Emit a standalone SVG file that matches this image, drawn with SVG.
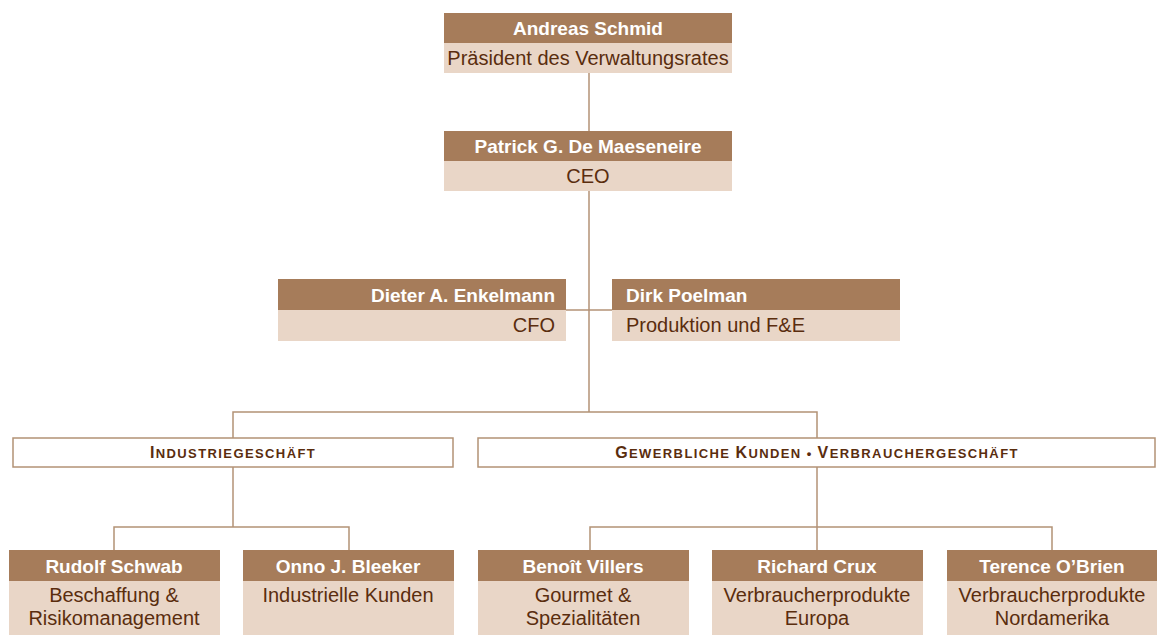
<svg xmlns="http://www.w3.org/2000/svg" width="1157" height="635" viewBox="0 0 1157 635">
<style>
.hd{fill:#A67C5A}
.bd{fill:#E9D6C7}
.ht{font-family:"Liberation Sans",Arial,sans-serif;font-weight:bold;font-size:19px;fill:#fff}
.bt{font-family:"Liberation Sans",Arial,sans-serif;font-size:20px;fill:#5A2D0E}
.sec{fill:#fff;stroke:#B39276;stroke-width:1.5}
.st{font-family:"Liberation Sans",Arial,sans-serif;font-weight:bold;fill:#5A2D0E;letter-spacing:1.4px}
.ln{fill:none;stroke:#B39276;stroke-width:1.5}
</style>
<g id="connectors">
<path class="ln" d="M589 73V131"/>
<path class="ln" d="M589 191V412"/>
<path class="ln" d="M566 310H612"/>
<path class="ln" d="M233 438V412H817V438"/>
<path class="ln" d="M233 467V527"/>
<path class="ln" d="M114 550V527H349V550"/>
<path class="ln" d="M817 467V527"/>
<path class="ln" d="M590 550V527H1052V550"/>
<path class="ln" d="M817 527V550"/>
</g>
<g id="schmid">
<rect class="hd" x="444" y="13" width="288" height="30"/>
<rect class="bd" x="444" y="43" width="288" height="30"/>
<text class="ht" x="588" y="35" text-anchor="middle">Andreas Schmid</text>
<text class="bt" x="588" y="65" text-anchor="middle">Präsident des Verwaltungsrates</text>
</g>
<g id="ceo">
<rect class="hd" x="444" y="131" width="288" height="30"/>
<rect class="bd" x="444" y="161" width="288" height="30"/>
<text class="ht" x="588" y="153" text-anchor="middle">Patrick G. De Maeseneire</text>
<text class="bt" x="588" y="183" text-anchor="middle">CEO</text>
</g>
<g id="cfo">
<rect class="hd" x="278" y="279" width="288" height="31"/>
<rect class="bd" x="278" y="310" width="288" height="31"/>
<text class="ht" x="555" y="302" text-anchor="end">Dieter A. Enkelmann</text>
<text class="bt" x="555" y="332" text-anchor="end">CFO</text>
</g>
<g id="poelman">
<rect class="hd" x="612" y="279" width="288" height="31"/>
<rect class="bd" x="612" y="310" width="288" height="31"/>
<text class="ht" x="626" y="302">Dirk Poelman</text>
<text class="bt" x="626" y="332">Produktion und F&amp;E</text>
</g>
<g id="industrie">
<rect class="sec" x="13" y="438" width="440" height="29"/>
<text class="st" x="233" y="458" text-anchor="middle"><tspan font-size="16">I</tspan><tspan font-size="13">NDUSTRIEGESCHÄFT</tspan></text>
</g>
<g id="gewerbliche">
<rect class="sec" x="478" y="438" width="677" height="29"/>
<text class="st" x="817" y="458" text-anchor="middle"><tspan font-size="16">G</tspan><tspan font-size="13">EWERBLICHE </tspan><tspan font-size="16">K</tspan><tspan font-size="13">UNDEN • </tspan><tspan font-size="16">V</tspan><tspan font-size="13">ERBRAUCHERGESCHÄFT</tspan></text>
</g>
<g id="schwab">
<rect class="hd" x="9" y="550" width="211" height="31"/>
<rect class="bd" x="9" y="581" width="211" height="54"/>
<text class="ht" x="114" y="573" text-anchor="middle">Rudolf Schwab</text>
<text class="bt" x="114" y="602" text-anchor="middle">Beschaffung &amp;</text>
<text class="bt" x="114" y="625" text-anchor="middle">Risikomanagement</text>
</g>
<g id="bleeker">
<rect class="hd" x="243" y="550" width="211" height="31"/>
<rect class="bd" x="243" y="581" width="211" height="54"/>
<text class="ht" x="348" y="573" text-anchor="middle">Onno J. Bleeker</text>
<text class="bt" x="348" y="602" text-anchor="middle">Industrielle Kunden</text>
</g>
<g id="villers">
<rect class="hd" x="478" y="550" width="211" height="31"/>
<rect class="bd" x="478" y="581" width="211" height="54"/>
<text class="ht" x="583" y="573" text-anchor="middle">Benoît Villers</text>
<text class="bt" x="583" y="602" text-anchor="middle">Gourmet  &amp;</text>
<text class="bt" x="583" y="625" text-anchor="middle">Spezialitäten</text>
</g>
<g id="crux">
<rect class="hd" x="712" y="550" width="211" height="31"/>
<rect class="bd" x="712" y="581" width="211" height="54"/>
<text class="ht" x="817" y="573" text-anchor="middle">Richard Crux</text>
<text class="bt" x="817" y="602" text-anchor="middle">Verbraucherprodukte</text>
<text class="bt" x="817" y="625" text-anchor="middle">Europa</text>
</g>
<g id="obrien">
<rect class="hd" x="947" y="550" width="210" height="31"/>
<rect class="bd" x="947" y="581" width="210" height="54"/>
<text class="ht" x="1052" y="573" text-anchor="middle">Terence O’Brien</text>
<text class="bt" x="1052" y="602" text-anchor="middle">Verbraucherprodukte</text>
<text class="bt" x="1052" y="625" text-anchor="middle">Nordamerika</text>
</g>
</svg>
